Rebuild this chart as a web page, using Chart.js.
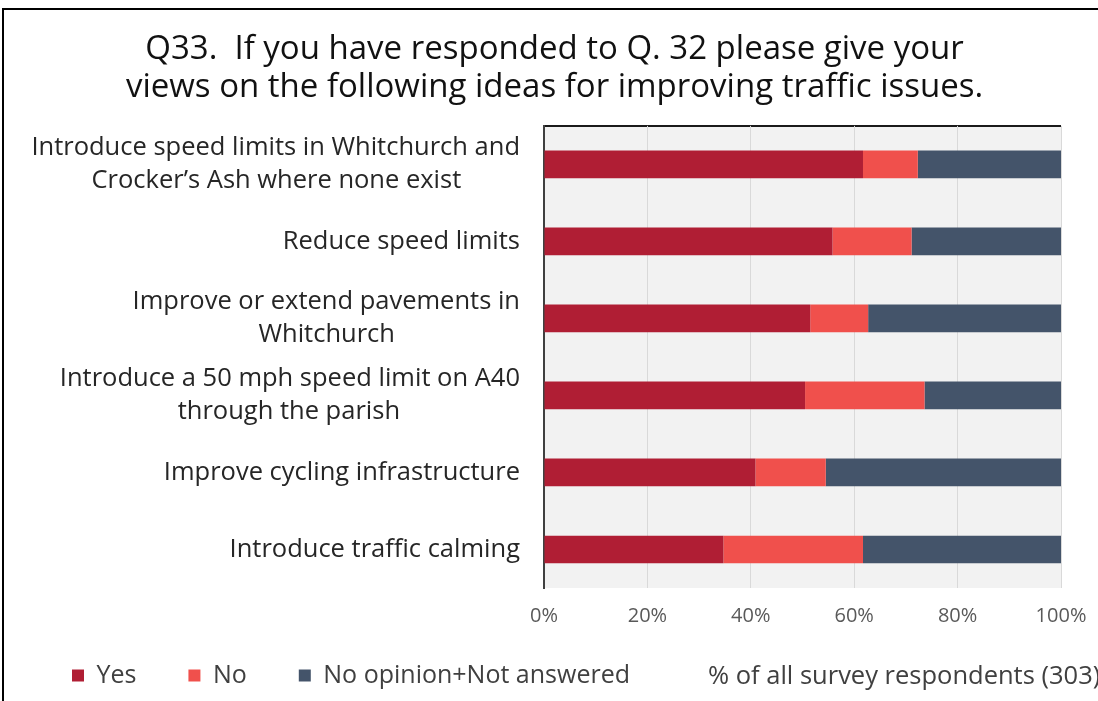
<!DOCTYPE html>
<html>
<head>
<meta charset="utf-8">
<script src="https://cdn.jsdelivr.net/npm/chart.js@4.4.1/dist/chart.umd.min.js"></script>
<style>
  html, body { margin: 0; padding: 0; background: #fff; overflow: hidden; }
  #wrap { position: relative; width: 1098px; height: 701px; }
  #frame { position: absolute; left: 2px; top: 8px; width: 1200px; height: 800px; border: 2px solid #000; }
  #myChart { position: absolute; left: 0; top: 0; }
</style>
</head>
<body>
<div id="wrap">
  <div id="frame"></div>
  <canvas id="myChart" width="1098" height="701"></canvas>
</div>
<script>
// categories (top to bottom)
const categories = [
  ['Introduce speed limits in Whitchurch and', 'Crocker\u2019s Ash where none exist'],
  'Reduce speed limits',
  ['Improve or extend pavements in', 'Whitchurch'],
  ['Introduce a 50 mph speed limit on A40', 'through the parish'],
  'Improve cycling infrastructure',
  'Introduce traffic calming'
];

// % of all survey respondents
const yesValues = [61.7, 55.8, 51.5, 50.5, 40.9, 34.7];
const noValues = [10.6, 15.3, 11.2, 23.1, 13.6, 27.0];
const otherValues = [27.7, 28.9, 37.3, 26.4, 45.5, 38.3];

const xTicks = [0, 20, 40, 60, 80, 100];

const titleLines = [
  'Q33.  If you have responded to Q. 32 please give your',
  'views on the following ideas for improving traffic issues.'
];
const footNote = '% of all survey respondents (303)';

const FONT = '"Open Sans", Lato, sans-serif';
const LABEL_SIZE = 25.5;

// multi-line labels: centre the lines under each other (right-aligned block)
const measure = document.createElement('canvas').getContext('2d');
function centreLines(label) {
  if (!Array.isArray(label)) return label;
  measure.font = LABEL_SIZE + 'px ' + FONT;
  const widths = label.map(s => measure.measureText(s).width);
  const maxW = Math.max(...widths);
  const hair = measure.measureText('\u200A').width || 1;
  return label.map((s, i) => s + '\u200A'.repeat(Math.round((maxW - widths[i]) / 2 / hair)));
}

// grey plot background + dark top edge
const plotBg = {
  id: 'plotBg',
  beforeDraw(chart) {
    const {ctx, chartArea: a} = chart;
    ctx.save();
    ctx.fillStyle = '#f2f2f2';
    ctx.fillRect(a.left, a.top, a.right - a.left, a.bottom - a.top);
    ctx.strokeStyle = '#1a1a1a';
    ctx.lineWidth = 2;
    ctx.beginPath();
    ctx.moveTo(a.left, a.top);
    ctx.lineTo(a.right, a.top);
    ctx.stroke();
    ctx.restore();
  }
};

// nudge legend row up and title a bit right
const nudge = {
  id: 'nudge',
  afterLayout(chart) {
    const lg = chart.legend;
    lg.top -= 22;
    lg.bottom -= 22;
    const t = chart.titleBlock;
    t.left += 14;
    t.right += 14;
  }
};

// note text on the legend row
const noteText = {
  id: 'noteText',
  afterDraw(chart) {
    const ctx = chart.ctx;
    ctx.save();
    ctx.font = '25.5px ' + FONT;
    ctx.fillStyle = '#404040';
    ctx.textBaseline = 'middle';
    ctx.textAlign = 'left';
    ctx.fillText(footNote, 708, 677);
    ctx.restore();
  }
};

const ctx = document.getElementById('myChart');

new Chart(ctx, {
  type: 'bar',
  data: {
    labels: categories,
    datasets: [
      { label: 'Yes', data: yesValues, backgroundColor: '#b01e34' },
      { label: 'No', data: noValues, backgroundColor: '#f0504c' },
      { label: 'No opinion+Not answered', data: otherValues, backgroundColor: '#44546a' }
    ]
  },
  options: {
    indexAxis: 'y',
    responsive: false,
    animation: false,
    layout: { padding: { left: 20, right: 37, top: 0, bottom: -19 } },
    datasets: {
      bar: { categoryPercentage: 1, barPercentage: 0.36 }
    },
    scales: {
      x: {
        stacked: true,
        min: 0,
        max: 100,
        afterBuildTicks(scale) {
          scale.ticks = xTicks.map(v => ({ value: v }));
        },
        afterFit(scale) {
          scale.height = 45;
          scale.paddingRight = 0;
        },
        grid: { color: '#d9d9d9', lineWidth: 1, drawTicks: false },
        border: { display: false },
        ticks: {
          padding: 16,
          color: '#595959',
          font: { family: FONT, size: 20 },
          callback: v => v + '%'
        }
      },
      y: {
        stacked: true,
        afterFit(scale) { scale.width = 544 - 20; },
        grid: { display: false, drawTicks: false },
        border: { display: true, color: '#404040', width: 2 },
        ticks: {
          padding: 24,
          color: '#262626',
          font: { family: FONT, size: LABEL_SIZE, lineHeight: 1.3 },
          callback(value) { return centreLines(this.getLabelForValue(value)); }
        }
      }
    },
    plugins: {
      title: {
        display: true,
        text: titleLines,
        color: '#111',
        font: { family: FONT, size: 33, weight: 'normal', lineHeight: 1.15 },
        padding: { top: 31, bottom: 19 }
      },
      legend: {
        position: 'bottom',
        align: 'start',
        labels: {
          boxWidth: 12,
          boxHeight: 12,
          padding: 52,
          color: '#404040',
          font: { family: FONT, size: 25 }
        }
      },
      tooltip: { enabled: false }
    }
  },
  plugins: [plotBg, nudge, noteText]
});
</script>
</body>
</html>
